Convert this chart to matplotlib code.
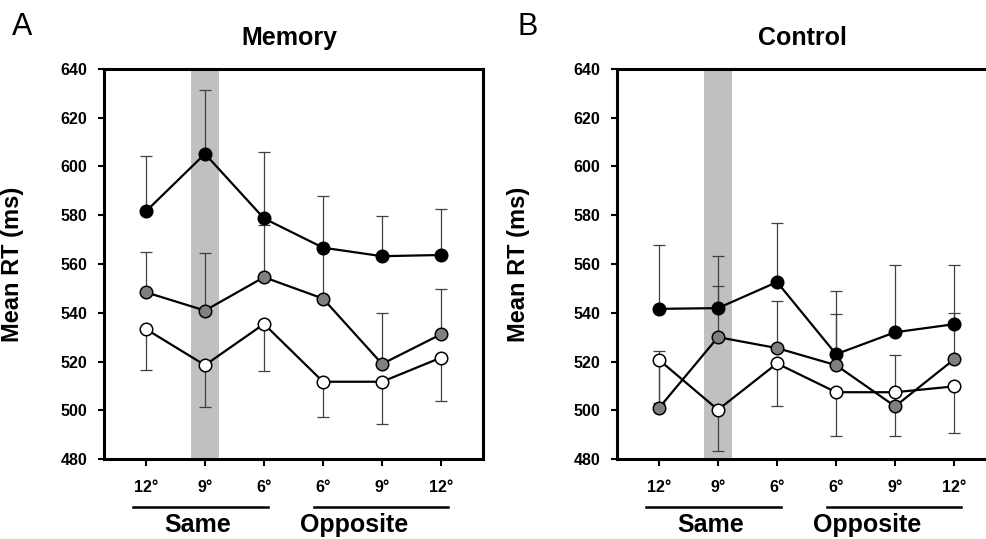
import numpy as np
import matplotlib
matplotlib.use("Agg")
import matplotlib.pyplot as plt

plt.rcParams['font.family'] = ['Liberation Sans', 'DejaVu Sans']

tick_labels = ['12°', '9°', '6°', '6°', '9°', '12°']

# Memory (panel A)
mem_black = [581.6, 605.2, 578.7, 566.7, 563.2, 563.7]
mem_black_up = [604.3, 631.5, 606.0, 588.1, 579.8, 582.6]
mem_gray = [548.4, 540.9, 554.6, 545.8, 519.0, 531.2]
mem_gray_up = [565.1, 564.6, 575.9, 566.0, 540.0, 549.8]
mem_white = [533.3, 518.5, 535.4, 511.7, 511.7, 521.6]
mem_white_lo = [516.7, 501.4, 516.2, 497.2, 494.5, 504.0]

# Control (panel B)
con_black = [541.6, 541.9, 552.6, 523.0, 532.0, 535.3]
con_black_up = [567.8, 563.3, 576.8, 548.8, 559.5, 559.6]
con_gray = [500.9, 530.0, 525.5, 518.5, 501.6, 520.9]
con_gray_up = [524.4, 551.1, 545.0, 539.5, 522.7, 540.1]
con_white = [520.7, 500.2, 519.2, 507.4, 507.4, 509.8]
con_white_lo = [503.0, 483.1, 501.6, 489.6, 489.6, 490.6]

x = np.arange(1, 7)


def panel(ax, title, letter, letter_x, ylab_x, black, black_up, gray, gray_up, white, white_lo):
    ax.axvspan(1.76, 2.24, color='#c0c0c0', lw=0, zorder=0)
    # one-sided error bars
    ebkw = dict(fmt='none', ecolor='#404040', elinewidth=0.9, capsize=4.5, capthick=0.9, zorder=1)
    b = np.array(black)
    g = np.array(gray)
    w = np.array(white)
    ax.errorbar(x, b, yerr=[np.zeros(6), np.array(black_up) - b], **ebkw)
    ax.errorbar(x, g, yerr=[np.zeros(6), np.array(gray_up) - g], **ebkw)
    ax.errorbar(x, w, yerr=[w - np.array(white_lo), np.zeros(6)], **ebkw)
    lkw = dict(color='black', lw=1.6, marker='o', ms=9, mec='black', mew=1.1, zorder=3)
    ax.plot(x, black, mfc='black', **lkw)
    ax.plot(x, gray, mfc='#808080', **lkw)
    ax.plot(x, white, mfc='white', **lkw)

    ax.set_xlim(0.29, 6.71)
    ax.set_ylim(480, 640)
    ax.set_yticks(np.arange(480, 641, 20))
    ax.set_xticks(x)
    ax.set_xticklabels(tick_labels)
    for lab in ax.get_yticklabels():
        lab.set_fontweight('bold')
        lab.set_fontsize(11.5)
    for lab in ax.get_xticklabels():
        lab.set_fontweight('bold')
        lab.set_fontsize(11.5)
    ax.tick_params(axis='y', direction='out', length=4.5, width=1.5, pad=7.5)
    ax.tick_params(axis='x', direction='out', length=5, width=1.5, pad=10)
    for s in ax.spines.values():
        s.set_linewidth(2.2)
    ax.set_ylabel('Mean RT (ms)', fontsize=17, fontweight='bold')
    ax.yaxis.set_label_coords(ylab_x, 0.5)
    ax.text(0.49, 1.0615, title, transform=ax.transAxes, fontsize=18, fontweight='bold',
            ha='center', va='baseline')
    ax.text(letter_x, 1.108, letter, transform=ax.transAxes, fontsize=22, ha='center', va='center')

    # group bars and labels below the tick labels
    tr = ax.get_xaxis_transform()
    ax.plot([0.78, 3.07], [-0.123, -0.123], color='black', lw=1.8, clip_on=False, transform=tr)
    ax.plot([3.85, 6.12], [-0.123, -0.123], color='black', lw=1.8, clip_on=False, transform=tr)
    ax.text(1.87, -0.188, 'Same', transform=tr, fontsize=18, fontweight='bold',
            ha='center', va='baseline')
    ax.text(4.52, -0.188, 'Opposite', transform=tr, fontsize=18, fontweight='bold',
            ha='center', va='baseline')


fig = plt.figure(figsize=(9.86, 5.39), dpi=100)
ax1 = fig.add_axes([0.1055, 0.1484, 0.3844, 0.7236])
ax2 = fig.add_axes([0.6258, 0.1484, 0.3844, 0.7236])

panel(ax1, 'Memory', 'A', -0.216, -0.211,
      mem_black, mem_black_up, mem_gray, mem_gray_up, mem_white, mem_white_lo)
panel(ax2, 'Control', 'B', -0.237, -0.23,
      con_black, con_black_up, con_gray, con_gray_up, con_white, con_white_lo)

fig.savefig('out.png', dpi=100)
